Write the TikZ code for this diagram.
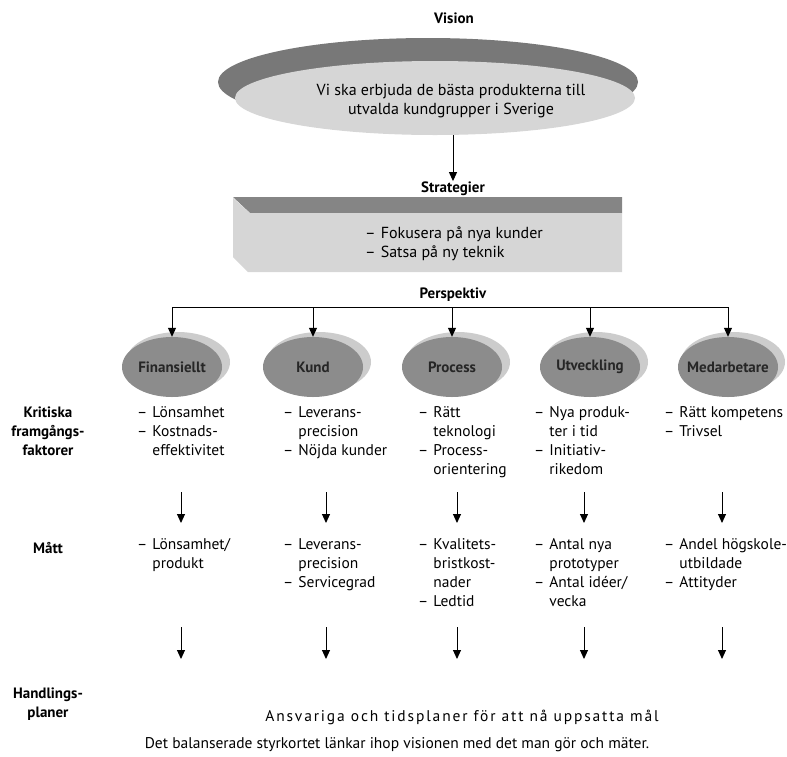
\documentclass[tikz,border=0pt]{standalone}
\usepackage{fontspec}
\setmainfont{PT Sans}
\usetikzlibrary{arrows.meta,shapes.geometric,calc}
\definecolor{bandgray}{gray}{0.47}
\definecolor{lightgray}{gray}{0.84}
\definecolor{pdarkgray}{gray}{0.55}
\definecolor{pshadegray}{gray}{0.80}
\definecolor{boxband}{gray}{0.52}
\newcommand{\colcell}[1]{\begin{tabular}[t]{@{}l@{\hspace{5pt}}l@{}}#1\end{tabular}}
\begin{document}
\begin{tikzpicture}[x=1pt,y=-1pt,
  lbl/.style={font=\bfseries\fontsize{15}{19}\selectfont, inner sep=0pt},
  cell/.style={anchor=base west, inner sep=0pt, font=\fontsize{15.5}{19}\selectfont},
  arr/.style={-{Triangle[width=8pt,length=9pt]}, line width=1pt},
  pdark/.style={ellipse, fill=pdarkgray, minimum width=100pt, minimum height=60pt, inner sep=0pt},
  pshade/.style={ellipse, fill=pshadegray, minimum width=104pt, minimum height=60pt, inner sep=0pt},
  ptext/.style={font=\bfseries\fontsize{15}{16}\selectfont, text=black!85, inner sep=0pt}
]
\useasboundingbox (0,0) rectangle (787,756);

% Vision
\node[lbl, anchor=base] (visionlbl) at (454,23) {Vision};
\node[ellipse, fill=bandgray, minimum width=420pt, minimum height=88pt, inner sep=0pt] (vision) at (428,82) {};
\node[ellipse, fill=lightgray, minimum width=400pt, minimum height=74pt, inner sep=0pt] (visionlight) at (435,98) {};
\node[inner sep=0pt, align=center, font=\fontsize{16}{19}\selectfont] (visiontext) at (451,101) {Vi ska erbjuda de bästa produkterna till\\utvalda kundgrupper i Sverige};

% Strategier
\node[lbl, anchor=base] (stratlbl) at (453,192) {Strategier};
\draw[arr] (stratlbl.north |- visionlight.south) -- (stratlbl.north);
\fill[boxband] (233,197) -- (622,197) -- (622,213) -- (250,213) -- cycle;
\fill[lightgray] (233,198) -- (250,213) -- (622,213) -- (622,272) -- (248,272) -- (233,257) -- cycle;
\node[cell, font=\fontsize{16}{19}\selectfont] (strattext) at (365,238) {\colcell{–&Fokusera på nya kunder\\–&Satsa på ny teknik}};

% Perspektiv
\node[lbl, anchor=base] (persplbl) at (453,298) {Perspektiv};
\coordinate (bus) at (0,307);

\node[pshade] (finS) at (178,362) {};
\node[pdark] (fin) at (172,367) {};
\node[ptext] at (fin) {Finansiellt};
\node[pshade] (kundS) at (319,362) {};
\node[pdark] (kund) at (313,367) {};
\node[ptext] at (kund) {Kund};
\node[pshade] (procS) at (458,362) {};
\node[pdark] (proc) at (452,367) {};
\node[ptext] at (proc) {Process};
\node[pshade] (utvS) at (596,362) {};
\node[pdark] (utv) at (590,367) {};
\node[ptext] at (utv) {Utveckling};
\node[pshade] (medS) at (733,362) {};
\node[pdark] (med) at (728,367) {};
\node[ptext] at (med) {Medarbetare};

\draw[line width=1pt] (fin.north |- bus) -- (med.north |- bus);
\foreach \n in {fin,kund,proc,utv,med}
  \draw[arr] (\n.north |- bus) -- (\n.north);

% Row labels
\node[lbl, anchor=base] (krit) at (48,417) {\begin{tabular}[t]{@{}c@{}}Kritiska\\framgångs-\\faktorer\end{tabular}};
\node[lbl, anchor=base] (matt) at (48,553) {Mått};
\node[lbl, anchor=base] (handl) at (48,698) {\begin{tabular}[t]{@{}c@{}}Handlings-\\planer\end{tabular}};

% Row 1: critical success factors
\node[cell] (k1) at (137,417) {\colcell{–&Lönsamhet\\–&Kostnads-\\&effektivitet}};
\node[cell] (k2) at (283,417) {\colcell{–&Leverans-\\&precision\\–&Nöjda kunder}};
\node[cell] (k3) at (418,417) {\colcell{–&Rätt\\&teknologi\\–&Process-\\&orientering}};
\node[cell] (k4) at (534,417) {\colcell{–&Nya produk-\\&ter i tid\\–&Initiativ-\\&rikedom}};
\node[cell] (k5) at (664,417) {\colcell{–&Rätt kompetens\\–&Trivsel}};

% Row 2: measures
\node[cell] (m1) at (137,549) {\colcell{–&Lönsamhet/\\&produkt}};
\node[cell] (m2) at (283,549) {\colcell{–&Leverans-\\&precision\\–&Servicegrad}};
\node[cell] (m3) at (418,549) {\colcell{–&Kvalitets-\\&bristkost-\\&nader\\–&Ledtid}};
\node[cell] (m4) at (534,549) {\colcell{–&Antal nya\\&prototyper\\–&Antal idéer/\\&vecka}};
\node[cell] (m5) at (664,549) {\colcell{–&Andel högskole-\\&utbildade\\–&Attityder}};

% Arrows between rows
\foreach \i/\x in {1/181,2/326,3/457,4/584,5/722}{
  \coordinate (ta\i) at (\x,492);
  \coordinate (tb\i) at (\x,523);
  \coordinate (ua\i) at (\x,627);
  \coordinate (ub\i) at (\x,659);
  \draw[arr] (ta\i) -- (tb\i);
  \draw[arr] (ua\i) -- (ub\i);
}

% Action plans
\node[inner sep=0pt, anchor=base, font=\fontsize{15.5}{18}\selectfont\addfontfeatures{LetterSpace=12}] (plans) at (462,721) {Ansvariga och tidsplaner för att nå uppsatta mål};

% Caption
\node[inner sep=0pt, anchor=base, font=\fontsize{15.5}{18}\selectfont] (caption) at (397,748) {Det balanserade styrkortet länkar ihop visionen med det man gör och mäter.};
\end{tikzpicture}
\end{document}
